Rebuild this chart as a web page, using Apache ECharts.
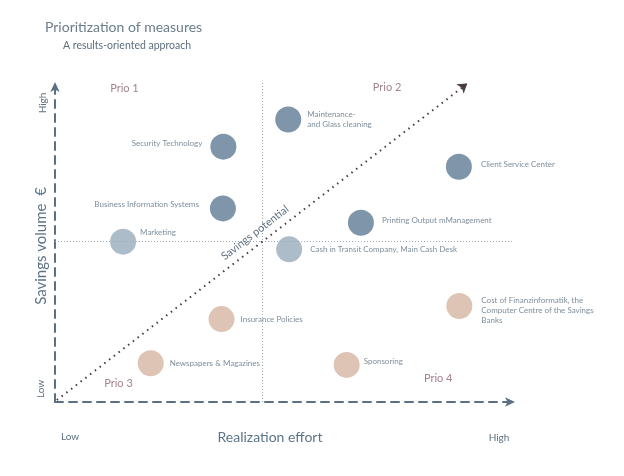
<!DOCTYPE html>
<html><head><meta charset="utf-8">
<script src="https://cdn.jsdelivr.net/npm/echarts@6/dist/echarts.min.js"></script>
<style>html,body{margin:0;padding:0;background:#fff}#c{width:624px;height:476px}</style>
</head><body><div id="c"></div>
<script>
// ---- data ----
const measures = ['Security Technology', 'Maintenance-\nand Glass cleaning', 'Client Service Center',
  'Business Information Systems', 'Printing Output mManagement', 'Marketing',
  'Cash in Transit Company, Main Cash Desk', 'Insurance Policies',
  'Cost of Finanzinformatik, the\nComputer Centre of the Savings\nBanks',
  'Newspapers & Magazines', 'Sponsoring'];
const effort  = [3.66, 5.07, 8.78, 3.65, 6.65, 1.48, 5.09, 3.62, 8.79, 2.08, 6.34];
const savings = [7.98, 8.83, 7.35, 6.05, 5.60, 5.01, 4.77, 2.59, 3.00, 1.21, 1.16];
const group   = ['high', 'high', 'high', 'high', 'high', 'mid', 'mid', 'low', 'low', 'low', 'low'];
const prioLabels = ['Prio 1', 'Prio 2', 'Prio 3', 'Prio 4'];
const prioX = [1.51, 7.22, 1.38, 8.33];
const prioY = [9.80, 9.82, 0.58, 0.74];
const dividerX = 4.51;
const dividerY = 5.01;
const potentialStart = [0.04, 0.06];
const potentialEnd = [8.96, 9.95];
const axisMin = 0, axisMax = 10;

// ---- styles ----
const FONT = 'Lato';
const groupColor = { high: '#5f7b93', mid: '#99abbb', low: '#d5b5a1' };
const labelPlacement = [
  { position: 'left', distance: 8, offset: [0, -3] },
  { position: 'right', distance: 6, offset: [0, 0] },
  { position: 'right', distance: 9, offset: [0, -2] },
  { position: 'left', distance: 11, offset: [0, -4] },
  { position: 'right', distance: 8, offset: [0, -2] },
  { position: 'right', distance: 4, offset: [0, -9] },
  { position: 'right', distance: 8, offset: [0, 0] },
  { position: 'right', distance: 6, offset: [0, 0] },
  { position: 'right', distance: 9, offset: [0, 4] },
  { position: 'right', distance: 6, offset: [0, 0] },
  { position: 'right', distance: 4, offset: [0, -3] }
];
const textColor = '#5e7081';
const axisColor = '#5b7084';

const chart = echarts.init(document.getElementById('c'), null, { renderer: 'canvas' });

const pointData = measures.map((m, i) => ({
  name: m,
  value: [effort[i], savings[i]],
  itemStyle: { color: groupColor[group[i]] },
  label: Object.assign({ show: true }, labelPlacement[i])
}));

const prioData = prioLabels.map((p, i) => ({ name: p, value: [prioX[i], prioY[i]] }));

const axisCommon = {
  type: 'value', min: axisMin, max: axisMax,
  axisTick: { show: false }, axisLabel: { show: false }, splitLine: { show: false },
  axisLine: { show: true, symbol: ['none', 'arrow'], symbolSize: [7, 10],
    lineStyle: { color: axisColor, width: 2, type: [8, 6] } }
};

chart.setOption({
  animation: false,
  backgroundColor: '#ffffff',
  title: [
    { text: 'Prioritization of measures', left: 45, top: 20, padding: 0,
      textStyle: { fontFamily: FONT, fontSize: 14, fontWeight: 'normal', color: '#6b7c8a' } },
    { text: 'A results-oriented approach', left: 63, top: 40, padding: 0,
      textStyle: { fontFamily: FONT, fontSize: 10.5, fontWeight: 'normal', color: '#5e6e7c' } }
  ],
  grid: { left: 55, top: 82, width: 460, height: 320 },
  xAxis: Object.assign({}, axisCommon),
  yAxis: Object.assign({}, axisCommon),
  graphic: [
    { type: 'text', x: 41, y: 246, rotation: Math.PI / 2,
      style: { text: 'Savings volume  €', font: '15px ' + FONT, fill: '#5c7488', align: 'center', verticalAlign: 'middle' } },
    { type: 'text', x: 43, y: 103, rotation: Math.PI / 2,
      style: { text: 'High', font: '10px ' + FONT, fill: textColor, align: 'center', verticalAlign: 'middle' } },
    { type: 'text', x: 41, y: 389, rotation: Math.PI / 2,
      style: { text: 'Low', font: '10px ' + FONT, fill: textColor, align: 'center', verticalAlign: 'middle' } },
    { type: 'text', x: 270, y: 437,
      style: { text: 'Realization effort', font: '14px ' + FONT, fill: '#5c7488', align: 'center', verticalAlign: 'middle' } },
    { type: 'text', x: 70, y: 437,
      style: { text: 'Low', font: '10px ' + FONT, fill: textColor, align: 'center', verticalAlign: 'middle' } },
    { type: 'text', x: 499, y: 438,
      style: { text: 'High', font: '10px ' + FONT, fill: textColor, align: 'center', verticalAlign: 'middle' } }
  ],
  series: [
    {
      type: 'scatter', symbol: 'circle', symbolSize: 26, z: 3,
      data: pointData,
      label: { fontFamily: FONT, fontSize: 8, color: textColor, lineHeight: 10,
        formatter: p => p.name },
      markLine: {
        silent: true, symbol: 'none', z: 1,
        label: { show: false },
        lineStyle: { color: '#9eabb7', width: 1, type: [1, 2] },
        data: [
          [{ coord: [dividerX, axisMin] }, { coord: [dividerX, axisMax] }],
          [{ coord: [axisMin, dividerY] }, { coord: [9.96, dividerY] }]
        ]
      }
    },
    {
      type: 'scatter', symbolSize: 0, z: 4,
      data: prioData,
      label: { show: true, position: 'inside', formatter: p => p.name,
        fontFamily: FONT, fontSize: 11, color: '#8c6272' },
      markLine: {
        silent: true, symbol: ['none', 'arrow'], symbolSize: 9, z: 2,
        lineStyle: { color: '#4a3a42', width: 2, type: [1.5, 4.5] },
        label: { show: true, position: 'middle', distance: 6, formatter: 'Savings potential',
          fontFamily: FONT, fontSize: 11, color: textColor },
        data: [
          [{ coord: potentialStart }, { coord: potentialEnd, symbol: 'arrow', itemStyle: { color: '#5a2136' } }]
        ]
      }
    }
  ]
});
</script>
</body></html>
